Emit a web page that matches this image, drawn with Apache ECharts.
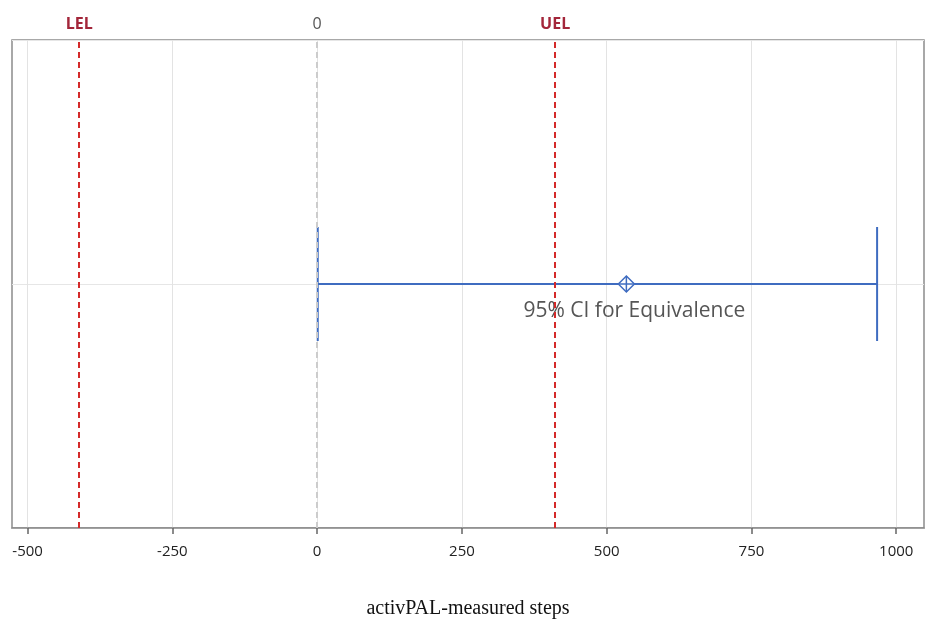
<!DOCTYPE html>
<html>
<head>
<meta charset="utf-8">
<script src="https://cdn.jsdelivr.net/npm/echarts@6/dist/echarts.min.js"></script>
<style>
  html, body { margin: 0; padding: 0; background: #fff; }
  #chart { width: 927px; height: 623px; }
</style>
</head>
<body>
<div id="chart"></div>
<script>
const tickValues = [-500, -250, 0, 250, 500, 750, 1000]
const limitNames = ['LEL', '0', 'UEL']
const limitValues = [-411, 0, 411]
const ciLower = [1]
const ciUpper = [967]
const ciPoint = [534]
const ciLabel = ['95% CI for Equivalence']

const chart = echarts.init(document.getElementById('chart'))

const RED = '#d42a2a'
const BLUE = '#3f6cc0'

chart.setOption({
  animation: false,
  grid: {
    left: 12, right: 3, top: 40, bottom: 95,
    outerBoundsMode: 'none',
    containLabel: false,
    show: true, borderColor: '#8c8c8c', borderWidth: 1.5
  },
  xAxis: {
    type: 'value',
    min: -527,
    max: 1048,
    name: 'activPAL-measured steps',
    nameLocation: 'middle',
    nameGap: 71,
    nameTextStyle: { fontFamily: 'Liberation Serif', fontSize: 20, color: '#111' },
    axisLine: { show: true, onZero: false, lineStyle: { color: '#8c8c8c', width: 1.5 } },
    axisTick: { show: true, length: 6, customValues: tickValues, lineStyle: { color: '#666', width: 1.5 } },
    axisLabel: {
      customValues: tickValues,
      formatter: v => String(v),
      fontFamily: 'Open Sans', fontSize: 15, color: '#222', margin: 16
    },
    splitLine: { show: true, lineStyle: { color: '#e3e3e3', width: 1 } }
  },
  yAxis: {
    type: 'value',
    min: -1, max: 1, interval: 1,
    axisLine: { show: false },
    axisTick: { show: false },
    axisLabel: { show: false },
    splitLine: { show: true, lineStyle: { color: '#e6e6e6' } }
  },
  series: [
    {
      type: 'custom',
      data: ciLower.map((lo, i) => [lo, ciUpper[i], ciPoint[i], 0]),
      renderItem(params, api) {
        const lo = api.coord([api.value(0), api.value(3)])
        const hi = api.coord([api.value(1), api.value(3)])
        const pt = api.coord([api.value(2), api.value(3)])
        const cap = 57
        const style = { stroke: BLUE, lineWidth: 2, fill: null }
        const r = 8
        return {
          type: 'group',
          children: [
            { type: 'line', shape: { x1: lo[0], y1: lo[1], x2: hi[0], y2: hi[1] }, style },
            { type: 'line', shape: { x1: lo[0], y1: lo[1] - cap, x2: lo[0], y2: lo[1] + cap }, style },
            { type: 'line', shape: { x1: hi[0], y1: hi[1] - cap, x2: hi[0], y2: hi[1] + cap }, style },
            { type: 'polygon', shape: { points: [[pt[0], pt[1] - r], [pt[0] + r, pt[1]], [pt[0], pt[1] + r], [pt[0] - r, pt[1]]] }, style: { stroke: BLUE, lineWidth: 1.5, fill: '#fff' } },
            { type: 'line', shape: { x1: pt[0], y1: pt[1] - r, x2: pt[0], y2: pt[1] + r }, style: { stroke: BLUE, lineWidth: 1.5 } },
            { type: 'line', shape: { x1: pt[0] - r, y1: pt[1], x2: pt[0] + r, y2: pt[1] }, style: { stroke: BLUE, lineWidth: 1.5 } },
            {
              type: 'text',
              style: {
                text: ciLabel[params.dataIndex],
                x: pt[0] + 8, y: pt[1] + 27,
                align: 'center', verticalAlign: 'middle',
                font: '21px "Open Sans"', fill: '#555'
              }
            }
          ]
        }
      },
      markLine: {
        silent: true,
        symbol: 'none',
        data: limitValues.map((v, i) => ({
          xAxis: v,
          name: limitNames[i],
          lineStyle: { color: v === 0 ? '#cccccc' : RED, type: [6, 4], width: 2 },
          label: {
            color: v === 0 ? '#555' : '#a3263a',
            fontWeight: v === 0 ? 'normal' : 'bold'
          }
        })),
        label: {
          show: true, position: 'end', formatter: '{b}', distance: 8,
          fontFamily: 'Open Sans', fontSize: 16
        }
      }
    }
  ]
})
</script>
</body>
</html>
